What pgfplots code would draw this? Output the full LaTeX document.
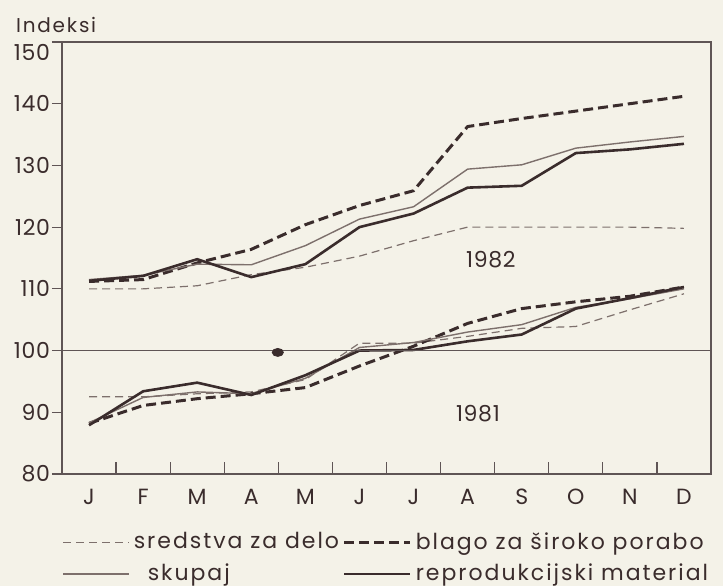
\documentclass[border=0pt]{standalone}
\usepackage{fontspec}
\setmainfont{Poppins}[LetterSpace=3]
\newfontfamily\legfont{Poppins}[LetterSpace=9]
\usepackage{pgfplots}
\pgfplotsset{compat=1.18}
\usetikzlibrary{backgrounds}
\definecolor{bg}{RGB}{244,242,232}
\definecolor{ink}{RGB}{58,44,44}
\definecolor{inkg}{RGB}{125,112,108}
\definecolor{axc}{RGB}{95,85,85}

\begin{document}
\begin{tikzpicture}
\begin{axis}[
  name=ax,
  scale only axis,
  width=324.5pt, height=216pt,
  xmin=0.5, xmax=12.5, ymin=80, ymax=150,
  xtick={1,...,12},
  xticklabels={J,F,M,A,M,J,J,A,S,O,N,D},
  minor xtick={1.5,2.5,...,11.5},
  xtick pos=bottom, ytick pos=left,
  xtick align=inside, ytick align=outside,
  major x tick style={draw=none},
  minor tick length=6pt, major tick length=5pt,
  ytick={80,90,...,150},
  yticklabels={80,90,100,110,120,130,140,\raisebox{-9.5pt}[0pt][0pt]{150}},
  axis line style={axc, line width=0.6pt},
  every tick/.style={axc, line width=0.6pt},
  tick label style={text=ink},
  yticklabel style={font=\fontsize{11}{13}\selectfont, xshift=2.5pt},
  xticklabel style={font=\fontsize{11}{13}\selectfont, yshift=-4pt},
  legend columns=2,
  legend cell align=left,
  legend image code/.code={\draw[#1] (0pt,0pt) -- (33pt,0pt);},
  legend style={at={(0,0)}, anchor=north west, yshift=-27pt, xshift=0pt,
    draw=none, fill=none, inner sep=0pt, row sep=2pt,
    font=\legfont\fontsize{11}{13}\selectfont, text=ink,
    /tikz/every even column/.append style={column sep=2.5pt}},
]
\addplot[inkg, line width=0.6pt, dash pattern=on 4pt off 2.5pt]
  coordinates {(1,110.0) (2,110.0) (3,110.5) (4,112.3) (5,113.5) (6,115.3) (7,117.8) (8,120.0) (9,120.0) (10,120.0) (11,120.0) (12,119.8)};
\addlegendentry{\makebox[100pt][l]{sredstva za delo}}
\addplot[ink, line width=1.5pt, dash pattern=on 5pt off 2.5pt]
  coordinates {(1,111.2) (2,111.5) (3,114.2) (4,116.4) (5,120.4) (6,123.5) (7,125.9) (8,136.3) (9,137.6) (10,138.8) (11,140.0) (12,141.2)};
\addlegendentry{blago za široko porabo}
\addplot[inkg, line width=0.7pt]
  coordinates {(1,111.5) (2,112.2) (3,114.0) (4,113.9) (5,117.0) (6,121.3) (7,123.3) (8,129.4) (9,130.1) (10,132.8) (11,133.8) (12,134.7)};
\addlegendentry{\makebox[100pt][l]{\hspace{7pt}skupaj}}
\addplot[ink, line width=1.3pt]
  coordinates {(1,111.3) (2,112.1) (3,114.8) (4,111.9) (5,114.0) (6,120.0) (7,122.2) (8,126.4) (9,126.7) (10,132.0) (11,132.6) (12,133.5)};
\addlegendentry{reprodukcijski material}
% 1981
\addplot[inkg, line width=0.6pt, dash pattern=on 4pt off 2.5pt, forget plot]
  coordinates {(1,92.5) (2,92.5) (3,93.0) (4,93.3) (5,95.3) (6,101.2) (7,101.2) (8,102.3) (9,103.6) (10,103.9) (11,106.6) (12,109.2)};
\addplot[ink, line width=1.5pt, dash pattern=on 5pt off 2.5pt, forget plot]
  coordinates {(1,88.2) (2,91.1) (3,92.2) (4,93.0) (5,94.0) (6,97.5) (7,100.7) (8,104.4) (9,106.8) (10,107.9) (11,108.8) (12,110.3)};
\addplot[inkg, line width=0.7pt, forget plot]
  coordinates {(1,88.3) (2,92.4) (3,93.3) (4,93.0) (5,95.5) (6,100.5) (7,101.3) (8,103.0) (9,104.2) (10,107.0) (11,108.4) (12,110.0)};
\addplot[ink, line width=1.3pt, forget plot]
  coordinates {(1,87.9) (2,93.4) (3,94.8) (4,92.8) (5,96.0) (6,100.0) (7,100.1) (8,101.5) (9,102.6) (10,106.8) (11,108.5) (12,110.3)};
% index 100 line
\addplot[axc, line width=0.6pt, forget plot] coordinates {(0.5,100) (12.5,100)};
\addplot[ink, only marks, mark=*, mark size=2pt, mark options={xscale=1.4}, forget plot] coordinates {(4.49,99.7)};
\node[font=\fontsize{11}{13}\selectfont, text=ink] at (axis cs:8.43,114.7) {1982};
\node[font=\fontsize{11}{13}\selectfont, text=ink] at (axis cs:8.19,89.8) {1981};
\end{axis}
\node[anchor=base west, font=\legfont\fontsize{10}{12}\selectfont, text=ink] at ([xshift=-26.5pt,yshift=4.5pt]ax.north west) {Indeksi};
\begin{scope}[on background layer]
\fill[bg] ([xshift=-31pt,yshift=-56pt]ax.south west) rectangle ([xshift=6pt,yshift=21pt]ax.north east);
\end{scope}
\pgfresetboundingbox
\path[use as bounding box] ([xshift=-31pt,yshift=-56pt]ax.south west) rectangle ([xshift=6pt,yshift=21pt]ax.north east);
\end{tikzpicture}
\end{document}
